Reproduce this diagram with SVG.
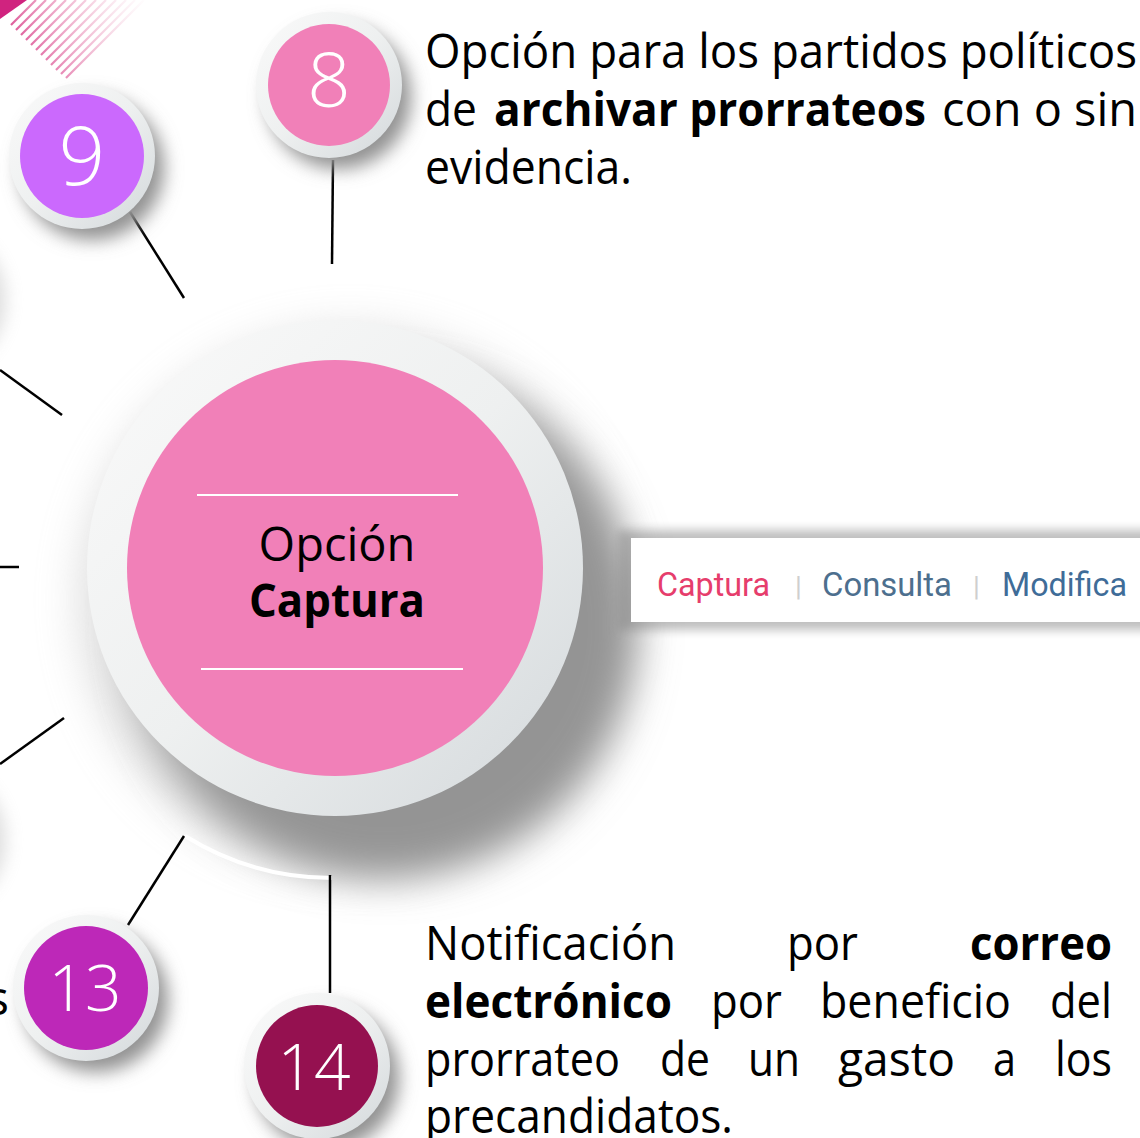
<svg xmlns="http://www.w3.org/2000/svg" width="1140" height="1138" viewBox="0 0 1140 1138">
<defs>
<style>
.t{font-family:"Open Sans","Segoe UI","DejaVu Sans",sans-serif;font-size:47px;fill:#000}
.b{font-weight:bold}
.num{font-family:"Open Sans","DejaVu Sans",sans-serif;font-weight:300;fill:#fff;text-anchor:middle}
.con{stroke:#000;stroke-width:2.5;fill:none}
.tab{font-family:Roboto,"Liberation Sans",sans-serif;font-size:34px}
.sep{font-family:Roboto,"Liberation Sans",sans-serif;font-size:28px;fill:#cfcfcf}
.stripe{stroke:url(#stripeGrad);stroke-width:2.2}
</style>
<linearGradient id="ring" x1="0" y1="0" x2="1" y2="1">
<stop offset="0" stop-color="#fafafa"/>
<stop offset="0.5" stop-color="#eef0f0"/>
<stop offset="1" stop-color="#d3d8db"/>
</linearGradient>
<linearGradient id="stripeGrad" gradientUnits="userSpaceOnUse" x1="25" y1="55" x2="150" y2="0">
<stop offset="0" stop-color="#d9428a" stop-opacity="0.85"/>
<stop offset="0.55" stop-color="#e88cb4" stop-opacity="0.45"/>
<stop offset="1" stop-color="#f2c0d6" stop-opacity="0"/>
</linearGradient>
<filter id="bigBlur" x="-30%" y="-30%" width="160%" height="160%"><feGaussianBlur stdDeviation="20"/></filter>
<filter id="smBlur" x="-40%" y="-40%" width="180%" height="180%"><feGaussianBlur stdDeviation="9"/></filter>
<filter id="tabBlur" x="-10%" y="-40%" width="120%" height="180%"><feGaussianBlur stdDeviation="5"/></filter>
</defs>
<rect width="1140" height="1138" fill="#fff"/>

<!-- top-left decoration -->
<g id="decoration">
<polygon points="0,0 27,0 0,19" fill="#d0237f"/>
<line class="stripe" x1="11" y1="25" x2="36" y2="0"/>
<line class="stripe" x1="16" y1="30" x2="46" y2="0"/>
<line class="stripe" x1="21" y1="35" x2="56" y2="0"/>
<line class="stripe" x1="26" y1="40" x2="66" y2="0"/>
<line class="stripe" x1="31" y1="45" x2="76" y2="0"/>
<line class="stripe" x1="36" y1="50" x2="86" y2="0"/>
<line class="stripe" x1="41" y1="55" x2="96" y2="0"/>
<line class="stripe" x1="46" y1="60" x2="106" y2="0"/>
<line class="stripe" x1="51" y1="65" x2="116" y2="0"/>
<line class="stripe" x1="56" y1="70" x2="126" y2="0"/>
<line class="stripe" x1="61" y1="74" x2="135" y2="0"/>
<line class="stripe" x1="66" y1="78" x2="144" y2="0"/>
</g>

<!-- faint shadows of off-canvas nodes -->
<circle cx="-70" cy="300" r="75" fill="#b0b0b0" opacity="0.45" filter="url(#smBlur)"/>
<circle cx="-70" cy="840" r="75" fill="#b0b0b0" opacity="0.45" filter="url(#smBlur)"/>

<!-- center node shadow (behind tab bar) -->
<circle cx="350" cy="600" r="272" fill="#c8c8c8" opacity="0.55" filter="url(#bigBlur)"/>
<circle cx="385" cy="625" r="252" fill="#949494" filter="url(#bigBlur)"/>

<!-- tab bar -->
<g id="tabbar">
<rect x="618" y="530" width="540" height="100" fill="#8a8a8a" opacity="0.55" filter="url(#tabBlur)"/>
<rect x="631" y="538" width="515" height="84" fill="#fff"/>
<text class="tab" x="657" y="596" fill="#e63d6c" textLength="113" lengthAdjust="spacingAndGlyphs">Captura</text>
<text class="sep" x="795" y="596">|</text>
<text class="tab" x="822" y="596" fill="#4d6f8e" textLength="130" lengthAdjust="spacingAndGlyphs">Consulta</text>
<text class="sep" x="973" y="596">|</text>
<text class="tab" x="1002" y="596" fill="#3f6c98" textLength="125" lengthAdjust="spacingAndGlyphs">Modifica</text>
</g>

<!-- center node -->
<g id="node-center">
<path d="M 185 836 A 278 278 0 0 0 332 878" fill="none" stroke="#fff" stroke-width="4"/>
<circle cx="335" cy="568" r="248" fill="url(#ring)"/>
<circle cx="335" cy="568" r="208" fill="#f180b8"/>
<line x1="197" y1="495" x2="458" y2="495" stroke="#fff" stroke-width="2"/>
<line x1="201" y1="669" x2="463" y2="669" stroke="#fff" stroke-width="2"/>
<text class="t" x="337" y="561" text-anchor="middle" font-size="45">Opción</text>
<text class="t b" x="249" y="617" font-size="44" textLength="176" lengthAdjust="spacingAndGlyphs">Captura</text>
</g>

<!-- connectors -->
<g id="connectors">
<line class="con" x1="333" y1="160" x2="332" y2="264"/>
<line class="con" x1="130" y1="212" x2="184" y2="298"/>
<line class="con" x1="0" y1="370" x2="62" y2="415"/>
<line class="con" x1="0" y1="567" x2="19" y2="567"/>
<line class="con" x1="0" y1="764" x2="64" y2="718"/>
<line class="con" x1="184" y1="836" x2="128" y2="925"/>
<line class="con" x1="330" y1="875" x2="330" y2="993"/>
</g>

<!-- node 8 -->
<g id="node-8">
<circle cx="339" cy="97" r="72" fill="#929292" filter="url(#smBlur)"/>
<circle cx="329" cy="85" r="73" fill="url(#ring)"/>
<circle cx="329" cy="85" r="61" fill="#f180b8"/>
<text class="num" x="329" y="107" font-size="76">8</text>
</g>

<!-- node 9 -->
<g id="node-9">
<circle cx="92" cy="168" r="72" fill="#929292" filter="url(#smBlur)"/>
<circle cx="82" cy="156" r="73" fill="url(#ring)"/>
<circle cx="82" cy="156" r="62" fill="#cb69fd"/>
<text class="num" x="82" y="185" font-size="82">9</text>
</g>

<!-- node 13 -->
<g id="node-13">
<circle cx="96" cy="1000" r="72" fill="#929292" filter="url(#smBlur)"/>
<circle cx="86" cy="988" r="73" fill="url(#ring)"/>
<circle cx="86" cy="988" r="62" fill="#bd28b8"/>
<text class="num" x="85" y="1011" font-size="64">13</text>
</g>

<!-- node 14 -->
<g id="node-14">
<circle cx="327" cy="1078" r="72" fill="#929292" filter="url(#smBlur)"/>
<circle cx="317" cy="1066" r="73" fill="url(#ring)"/>
<circle cx="317" cy="1066" r="61" fill="#951150"/>
<text class="num" x="314" y="1090" font-size="64">14</text>
</g>

<!-- cut-off label at left -->
<text class="t" x="9" y="1015" text-anchor="end">s</text>

<!-- text for 8 -->
<g id="text-8">
<text class="t" x="425" y="68" textLength="712" lengthAdjust="spacingAndGlyphs">Opción para los partidos políticos</text>
<text class="t" x="425" y="126" textLength="52" lengthAdjust="spacingAndGlyphs">de</text>
<text class="t b" x="494" y="126" textLength="432" lengthAdjust="spacingAndGlyphs">archivar prorrateos</text>
<text class="t" x="942" y="126" textLength="195" lengthAdjust="spacingAndGlyphs">con o sin</text>
<text class="t" x="425" y="184" textLength="207" lengthAdjust="spacingAndGlyphs">evidencia.</text>
</g>

<!-- text for 14 -->
<g id="text-14">
<text class="t" x="425" y="960" textLength="251" lengthAdjust="spacingAndGlyphs">Notificación</text>
<text class="t" x="787" y="960" textLength="71" lengthAdjust="spacingAndGlyphs">por</text>
<text class="t b" x="970" y="960" textLength="142" lengthAdjust="spacingAndGlyphs">correo</text>
<text class="t b" x="425" y="1018" textLength="247" lengthAdjust="spacingAndGlyphs">electrónico</text>
<text class="t" x="711" y="1018" textLength="71" lengthAdjust="spacingAndGlyphs">por</text>
<text class="t" x="820" y="1018" textLength="191" lengthAdjust="spacingAndGlyphs">beneficio</text>
<text class="t" x="1050" y="1018" textLength="62" lengthAdjust="spacingAndGlyphs">del</text>
<text class="t" x="425" y="1076" textLength="195" lengthAdjust="spacingAndGlyphs">prorrateo</text>
<text class="t" x="660" y="1076" textLength="50" lengthAdjust="spacingAndGlyphs">de</text>
<text class="t" x="748" y="1076" textLength="52" lengthAdjust="spacingAndGlyphs">un</text>
<text class="t" x="838" y="1076" textLength="117" lengthAdjust="spacingAndGlyphs">gasto</text>
<text class="t" x="993" y="1076" textLength="23" lengthAdjust="spacingAndGlyphs">a</text>
<text class="t" x="1055" y="1076" textLength="57" lengthAdjust="spacingAndGlyphs">los</text>
<text class="t" x="425" y="1133" textLength="308" lengthAdjust="spacingAndGlyphs">precandidatos.</text>
</g>
</svg>
